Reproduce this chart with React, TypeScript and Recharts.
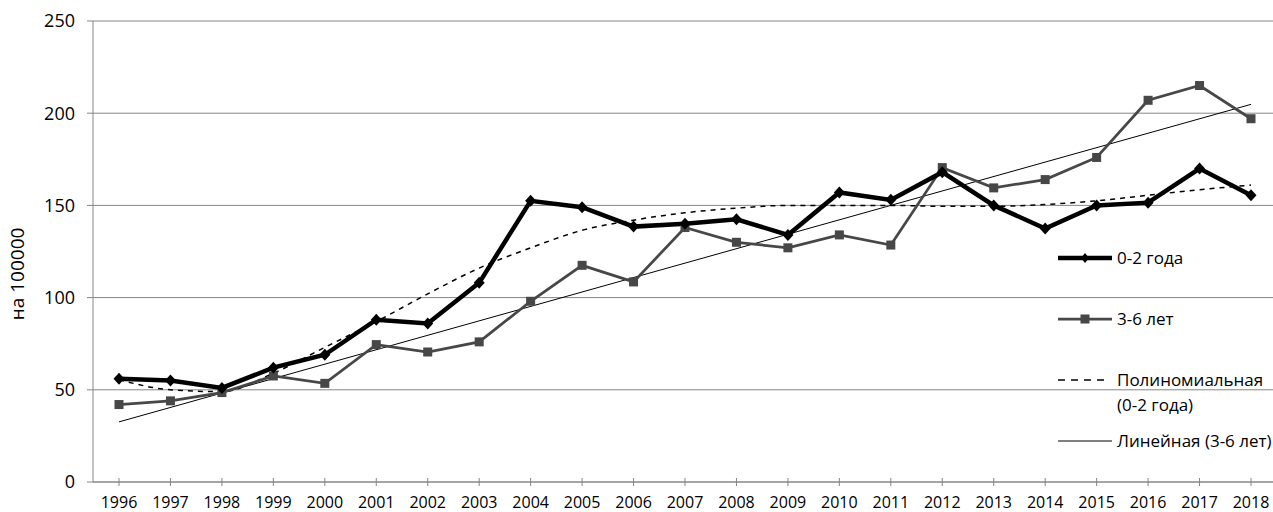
import React from "react";
import { LineChart, Line, XAxis, YAxis, CartesianGrid } from "recharts";

const years = [
  "1996", "1997", "1998", "1999", "2000", "2001", "2002", "2003", "2004", "2005", "2006", "2007",
  "2008", "2009", "2010", "2011", "2012", "2013", "2014", "2015", "2016", "2017", "2018",
];

// 0-2 года
const infants = [
  56, 55, 51, 62, 69, 88, 86, 108, 152.5, 149, 138.5, 140, 142.5, 134, 157, 153, 168, 150, 137.5,
  150, 151.5, 170, 155.5,
];

// 3-6 лет
const preschool = [
  42, 44, 48.5, 57.5, 53.5, 74.5, 70.5, 76, 98, 117.5, 108.5, 138, 130, 127, 134, 128.5, 170.5,
  159.5, 164, 176, 207, 215, 197,
];

// Полиномиальная (0-2 года)
const polyTrend = [
  55.5, 50, 49, 59, 73, 87, 102, 116, 127, 136.5, 142, 146, 148.5, 150, 150, 150, 149.5, 149.5,
  150.5, 152.5, 155.5, 158.5, 161,
];

// Линейная (3-6 лет), end values only
const linearStart = 32.6;
const linearEnd = 204.8;

const yTicks = [0, 50, 100, 150, 200, 250];

const FONT = "'Open Sans', sans-serif";
const GRID = "#868686";
const DARK = "#474747";

const data = years.map((year, i) => ({
  year,
  infants: infants[i],
  preschool: preschool[i],
  poly: polyTrend[i],
  linear: i === 0 ? linearStart : i === years.length - 1 ? linearEnd : null,
}));

const Diamond = (props: any) => {
  const { cx, cy } = props;
  if (cx == null || cy == null) return null;
  return (
    <polygon
      points={`${cx},${cy - 6} ${cx + 5.5},${cy} ${cx},${cy + 6} ${cx - 5.5},${cy}`}
      fill="#000"
    />
  );
};

const Square = (props: any) => {
  const { cx, cy } = props;
  if (cx == null || cy == null) return null;
  return <rect x={cx - 4.5} y={cy - 4.5} width={9} height={9} fill={DARK} />;
};

const XTick = (props: any) => {
  const { x, y, payload } = props;
  return (
    <g>
      <line x1={x} x2={x} y1={y - 4} y2={y + 4} stroke={GRID} />
      <text x={x} y={y + 26} textAnchor="middle" fontSize={16} fontFamily={FONT} fill="#000">
        {payload.value}
      </text>
    </g>
  );
};

const App = () => {
  return (
    <div style={{ position: "relative", width: 1273, height: 512, overflow: "hidden" }}>
      <style>{"html,body{margin:0;overflow:hidden;}"}</style>
      <LineChart width={1280} height={512} data={data} margin={{ top: 21, right: 3, bottom: 0, left: 0 }}>
        <CartesianGrid vertical={false} stroke={GRID} />
        <XAxis
          dataKey="year"
          interval={0}
          height={30}
          tickSize={0}
          tickMargin={0}
          padding={{ left: 26, right: 26 }}
          tick={<XTick />}
          axisLine={{ stroke: GRID }}
        />
        <YAxis
          domain={[0, 250]}
          ticks={yTicks}
          width={93}
          tickSize={6}
          tickMargin={12}
          axisLine={{ stroke: GRID }}
          tickLine={{ stroke: GRID }}
          tick={{ fill: "#000", fontSize: 18, fontFamily: FONT }}
        />
        <Line
          dataKey="linear"
          stroke="#000"
          strokeWidth={1}
          dot={false}
          connectNulls
          isAnimationActive={false}
        />
        <Line
          dataKey="poly"
          type="monotone"
          stroke="#000"
          strokeWidth={1.5}
          strokeDasharray="5 5"
          dot={false}
          isAnimationActive={false}
        />
        <Line
          dataKey="preschool"
          stroke={DARK}
          strokeWidth={2.75}
          dot={<Square />}
          isAnimationActive={false}
        />
        <Line
          dataKey="infants"
          stroke="#000"
          strokeWidth={4.5}
          dot={<Diamond />}
          isAnimationActive={false}
        />
      </LineChart>

      <svg
        width={1273}
        height={512}
        style={{ position: "absolute", left: 0, top: 0, pointerEvents: "none" }}
        fontFamily={FONT}
      >
        <text transform="translate(24,274) rotate(-90)" textAnchor="middle" fontSize={19} fill="#000">
          на 100000
        </text>

        <line x1={1058} x2={1112} y1={258} y2={258} stroke="#000" strokeWidth={4.5} />
        <polygon points="1085,253 1089,258 1085,263 1081,258" fill="#000" />
        <text x={1117} y={264} fontSize={17} fill="#000">0-2 года</text>

        <line x1={1058} x2={1112} y1={319} y2={319} stroke={DARK} strokeWidth={2.75} />
        <rect x={1080.5} y={314.5} width={9} height={9} fill={DARK} />
        <text x={1117} y={325} fontSize={17} fill="#000">3-6 лет</text>

        <line x1={1058} x2={1107} y1={380} y2={380} stroke="#000" strokeWidth={1.5} strokeDasharray="7 6" />
        <text x={1117} y={386} fontSize={17} fill="#000">Полиномиальная</text>
        <text x={1117} y={411} fontSize={17} fill="#000">(0-2 года)</text>

        <line x1={1058} x2={1112} y1={441} y2={441} stroke="#000" strokeWidth={1} />
        <text x={1117} y={447} fontSize={17} fill="#000">Линейная (3-6 лет)</text>
      </svg>
    </div>
  );
};

export default App;
